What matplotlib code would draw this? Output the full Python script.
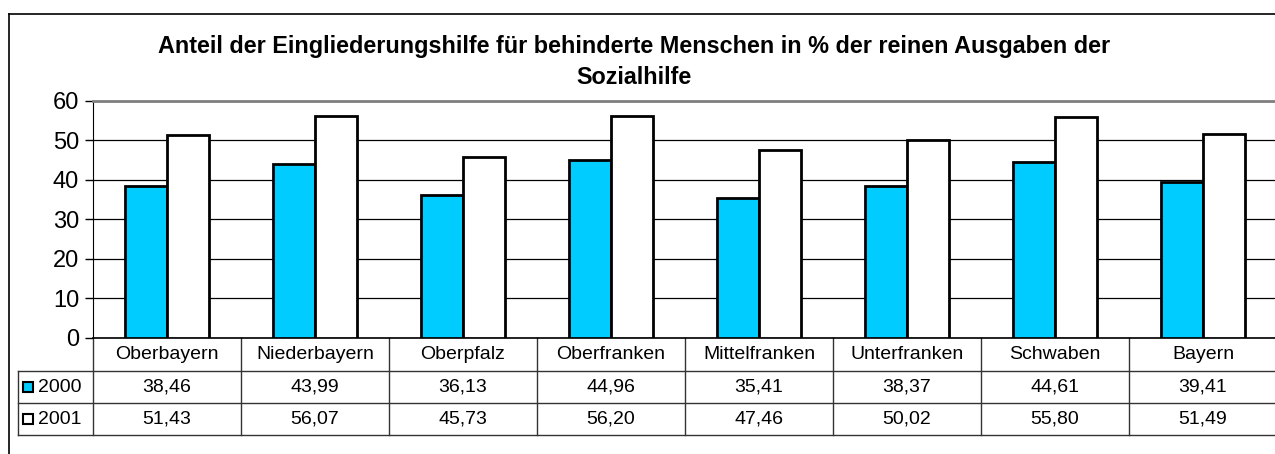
import matplotlib
matplotlib.use("Agg")
import matplotlib.pyplot as plt
from matplotlib.lines import Line2D
from matplotlib.transforms import blended_transform_factory

plt.rcParams["font.family"] = ["Liberation Sans", "DejaVu Sans"]

# ---- data ---------------------------------------------------------------------
regions = ["Oberbayern", "Niederbayern", "Oberpfalz", "Oberfranken",
           "Mittelfranken", "Unterfranken", "Schwaben", "Bayern"]
anteil_2000 = [38.46, 43.99, 36.13, 44.96, 35.41, 38.37, 44.61, 39.41]
anteil_2001 = [51.43, 56.07, 45.73, 56.20, 47.46, 50.02, 55.80, 51.49]
series_labels = ["2000", "2001"]
yticks = [0, 10, 20, 30, 40, 50, 60]
title_lines = ["Anteil der Eingliederungshilfe für behinderte Menschen in % der reinen Ausgaben der",
               "Sozialhilfe"]

BLUE = "#00CCFF"
W, H = 1275, 454

fig = plt.figure(figsize=(W / 100, H / 100), dpi=100)

# pixel layout of the plot area
left_px, right_px, top_px, bot_px = 93, 1277, 100.7, 338
ax = fig.add_axes([left_px / W, 1 - bot_px / H,
                   (right_px - left_px) / W, (bot_px - top_px) / H])

n = len(regions)
xs = [i + 0.5 for i in range(n)]
bw = 42 / 148
ax.bar([x - bw / 2 for x in xs], anteil_2000, width=bw, color=BLUE,
       edgecolor="black", linewidth=2, zorder=3)
ax.bar([x + bw / 2 for x in xs], anteil_2001, width=bw, color="white",
       edgecolor="black", linewidth=2, zorder=3)

ax.set_xlim(0, n)
ax.set_ylim(0, 60)
ax.set_yticks(yticks)
ax.tick_params(axis="y", labelsize=17, length=6, width=1, direction="out", pad=4)
ax.set_xticks([])
ax.grid(axis="y", color="black", linewidth=0.9, zorder=0)
ax.spines["left"].set_color("black")
ax.spines["bottom"].set_color("black")
ax.spines["bottom"].set_linewidth(1.2)
ax.spines["top"].set_color("#808080")
ax.spines["top"].set_linewidth(2)
ax.spines["right"].set_visible(False)

# ---- data table below the axis -----------------------------------------------
trans = blended_transform_factory(ax.transData, ax.transAxes)
ph = bot_px - top_px
def ypx(y):  # pixel row -> axes fraction
    return (bot_px - y) / ph

row_lines = [371, 403, 435]
x_label_left = (18 - left_px) / 148
for yl in row_lines:
    ax.add_line(Line2D([x_label_left, n], [ypx(yl)] * 2, transform=trans,
                       color="#333333", linewidth=1, clip_on=False))
ax.add_line(Line2D([x_label_left] * 2, [ypx(371), ypx(435)], transform=trans,
                   color="#333333", linewidth=1, clip_on=False))
for i in range(n + 1):
    ax.add_line(Line2D([i, i], [0, ypx(435)], transform=trans,
                       color="#333333", linewidth=1, clip_on=False))

for x, name, a, b in zip(xs, regions, anteil_2000, anteil_2001):
    ax.text(x, ypx(354.5), name, transform=trans, ha="center", va="center", fontsize=14)
    ax.text(x, ypx(387), f"{a:.2f}".replace(".", ","), transform=trans,
            ha="center", va="center", fontsize=14)
    ax.text(x, ypx(419), f"{b:.2f}".replace(".", ","), transform=trans,
            ha="center", va="center", fontsize=14)

for yrow, lab, col in zip([387, 419], series_labels, [BLUE, "white"]):
    ax.plot([(28 - left_px) / 148], [ypx(yrow)], marker="s", markersize=7.5,
            markerfacecolor=col, markeredgecolor="black", markeredgewidth=1.5,
            transform=trans, clip_on=False)
    ax.text((38 - left_px) / 148, ypx(yrow), lab, transform=trans,
            ha="left", va="center", fontsize=14)

# ---- title and outer frame ---------------------------------------------------
fig.text(634 / W, 1 - 53 / H, title_lines[0], ha="center", va="baseline",
         fontsize=16.8, fontweight="bold")
fig.text(634 / W, 1 - 84 / H, title_lines[1], ha="center", va="baseline",
         fontsize=16.8, fontweight="bold")

fig.add_artist(Line2D([9 / W, 9 / W], [0, 1 - 14 / H], transform=fig.transFigure,
                      color="black", linewidth=1.2))
fig.add_artist(Line2D([9 / W, 1], [1 - 14 / H] * 2, transform=fig.transFigure,
                      color="black", linewidth=1.2))

fig.savefig("out.png", dpi=100)
